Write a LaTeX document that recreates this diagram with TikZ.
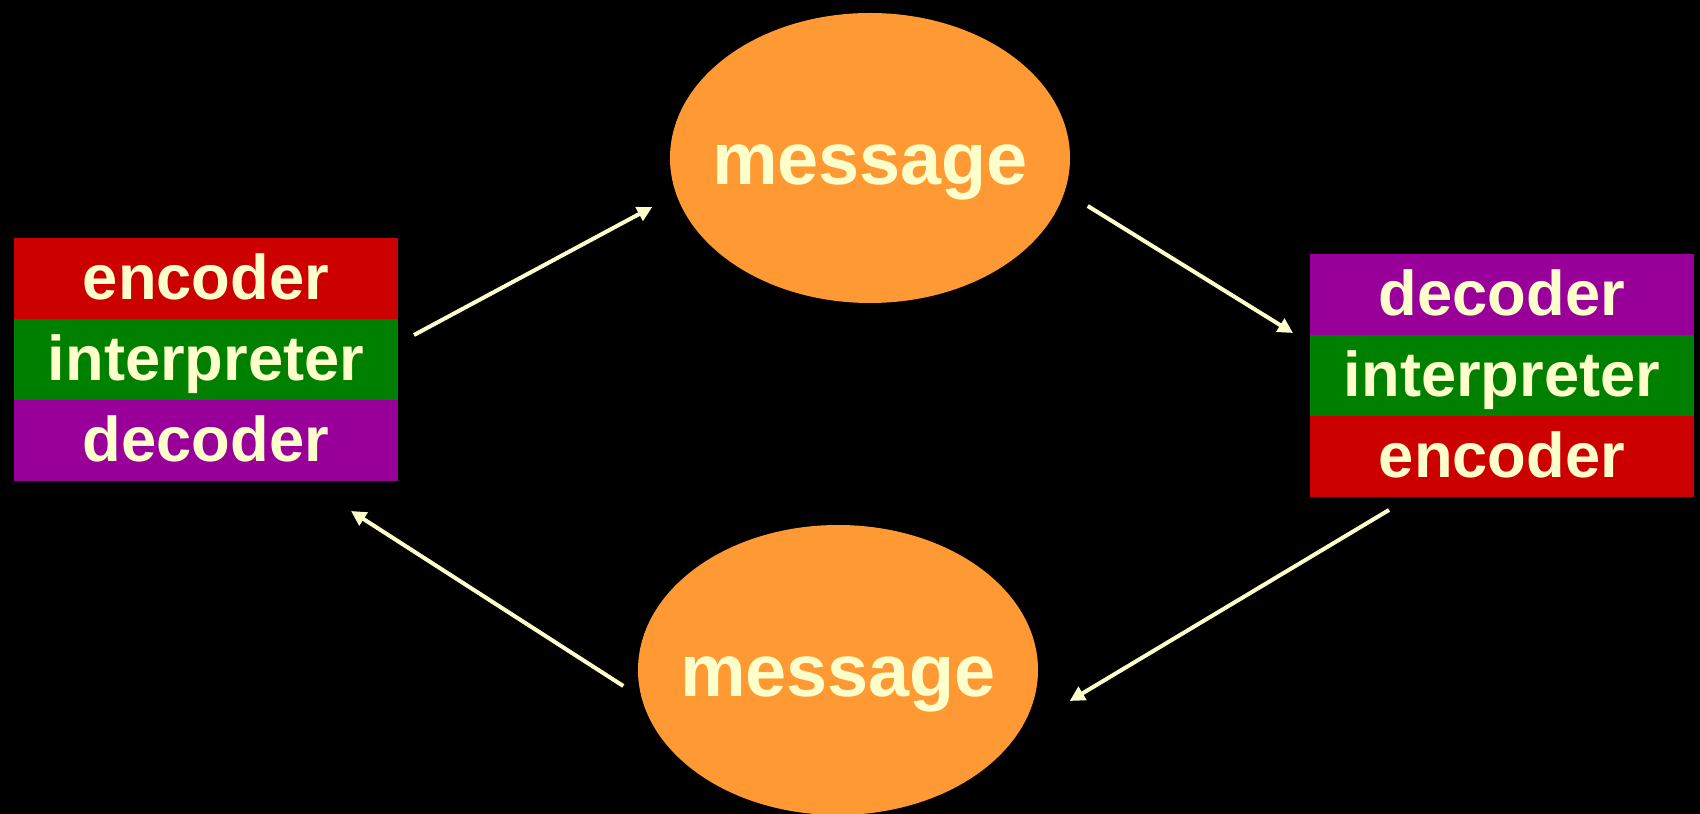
\documentclass[tikz,border=0pt]{standalone}
\usepackage{fontspec}
\setmainfont{Liberation Sans}
\usetikzlibrary{positioning,shapes.geometric,arrows.meta}
\definecolor{cream}{HTML}{FFFFCC}
\definecolor{encred}{HTML}{CC0000}
\definecolor{intgreen}{HTML}{008000}
\definecolor{decpurple}{HTML}{990099}
\definecolor{msgorange}{HTML}{FF9933}
\begin{document}
\begin{tikzpicture}[
    band/.style={rectangle, minimum width=3.84cm, minimum height=0.81cm, inner sep=0pt, outer sep=0pt,
        text height=0.43cm, text depth=0pt,
        text=cream, font=\fontsize{18}{20}\selectfont\bfseries},
    msg/.style={ellipse, fill=msgorange, minimum width=4.0cm, minimum height=2.9cm, inner sep=0pt,
        text width=0pt, align=center, text height=0.54cm, text depth=0pt,
        text=cream, font=\fontsize{21}{24}\selectfont\bfseries},
    flow/.style={-{Triangle[length=0.15cm,width=0.15cm]}, cream, line width=0.04cm}]
    % Background
    \fill[black] (0,0) rectangle (17,8.14);
    \useasboundingbox (0,0) rectangle (17,8.14);

    % Left stack
    \node[band, fill=encred] (L1) at (2.06,5.355) {encoder};
    \node[band, fill=intgreen, below=0pt of L1] (L2) {interpreter};
    \node[band, fill=decpurple, below=0pt of L2] (L3) {decoder};

    % Right stack
    \node[band, fill=decpurple] (R1) at (15.02,5.195) {decoder};
    \node[band, fill=intgreen, below=0pt of R1] (R2) {interpreter};
    \node[band, fill=encred, below=0pt of R2] (R3) {encoder};

    % Messages
    \node[msg] (top) at (8.70,6.56) {\makebox[0pt]{message}};
    \node[msg] (bot) at (8.38,1.44) {\makebox[0pt]{message}};

    % Flow arrows
    \draw[flow] ([shift={(0.16,-0.16)}]L2.north east) -- ([shift={(-0.17,-0.49)}]top.west);
    \draw[flow] ([shift={(0.17,-0.48)}]top.east) -- ([shift={(-0.17,0.02)}]R1.south west);
    \draw[flow] ([shift={(0.79,-0.13)}]R3.south west) -- ([shift={(0.31,-0.31)}]bot.east);
    \draw[flow] ([shift={(-0.14,-0.16)}]bot.west) -- ([shift={(-0.47,-0.30)}]L3.south east);
\end{tikzpicture}
\end{document}
